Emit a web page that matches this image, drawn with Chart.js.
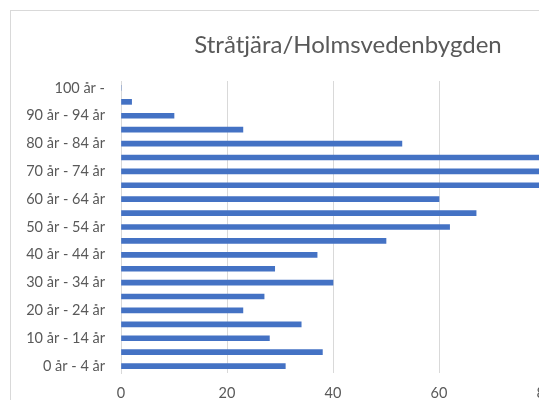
<!DOCTYPE html>
<html>
<head>
<meta charset="utf-8">
<script src="https://cdn.jsdelivr.net/npm/chart.js@4"></script>
<style>
  html, body { margin: 0; padding: 0; background: #fff; overflow: hidden; width: 539px; height: 400px; }
  #wrap { position: absolute; left: 10px; top: 10px; width: 668px; height: 400px; border: 1px solid #d9d9d9; }
  canvas { display: block; }
</style>
</head>
<body>
<div id="wrap"><canvas id="c" width="668" height="400"></canvas></div>
<script>
const titleText = "Stråtjära/Holmsvedenbygden";
const categories = [
  "0 år - 4 år", "5 år - 9 år", "10 år - 14 år", "15 år - 19 år", "20 år - 24 år",
  "25 år - 29 år", "30 år - 34 år", "35 år - 39 år", "40 år - 44 år", "45 år - 49 år",
  "50 år - 54 år", "55 år - 59 år", "60 år - 64 år", "65 år - 69 år", "70 år - 74 år",
  "75 år - 79 år", "80 år - 84 år", "85 år - 89 år", "90 år - 94 år", "95 år - 99 år",
  "100 år -"
];
const values = [31, 38, 28, 34, 23, 27, 40, 29, 37, 50, 62, 67, 60, 86, 88, 84, 53, 23, 10, 2, 0];
const xTicks = { min: 0, max: 100, step: 20 };

const grey = "#595959";
const gridCol = "#d9d9d9";
const fontFam = "Lato, 'Open Sans', sans-serif";

const titleShift = {
  id: "titleShift",
  afterLayout(chart) {
    if (chart.titleBlock) { chart.titleBlock.left = 34; }
  }
};

new Chart(document.getElementById("c"), {
  type: "bar",
  data: {
    labels: categories,
    datasets: [{
      data: values,
      backgroundColor: "#4472c4",
      borderWidth: 0,
      barThickness: 5
    }]
  },
  plugins: [titleShift],
  options: {
    indexAxis: "y",
    responsive: false,
    animation: false,
    layout: { padding: { left: 0, right: 28, top: 0, bottom: 0 } },
    plugins: {
      legend: { display: false },
      tooltip: { enabled: false },
      title: {
        display: true,
        text: titleText,
        color: grey,
        font: { family: fontFam, size: 24, weight: "normal", lineHeight: 1.2 },
        padding: { top: 20, bottom: 21.2 }
      }
    },
    scales: {
      x: {
        min: xTicks.min,
        max: xTicks.max,
        ticks: { stepSize: xTicks.step, color: grey, font: { family: fontFam, size: 14.5 }, padding: 12 },
        grid: { color: gridCol, lineWidth: 1, drawTicks: false },
        border: { display: false },
        afterFit: s => { s.height = 38; }
      },
      y: {
        reverse: true,
        ticks: {
          autoSkip: false,
          color: grey,
          font: { family: fontFam, size: 14.5 },
          padding: 16,
          callback: function (v, i) { return i % 2 === 0 ? this.getLabelForValue(v) : ""; }
        },
        grid: { display: false, drawTicks: false },
        border: { display: true, color: gridCol },
        afterFit: s => { s.width = 110; }
      }
    }
  }
});
</script>
</body>
</html>
